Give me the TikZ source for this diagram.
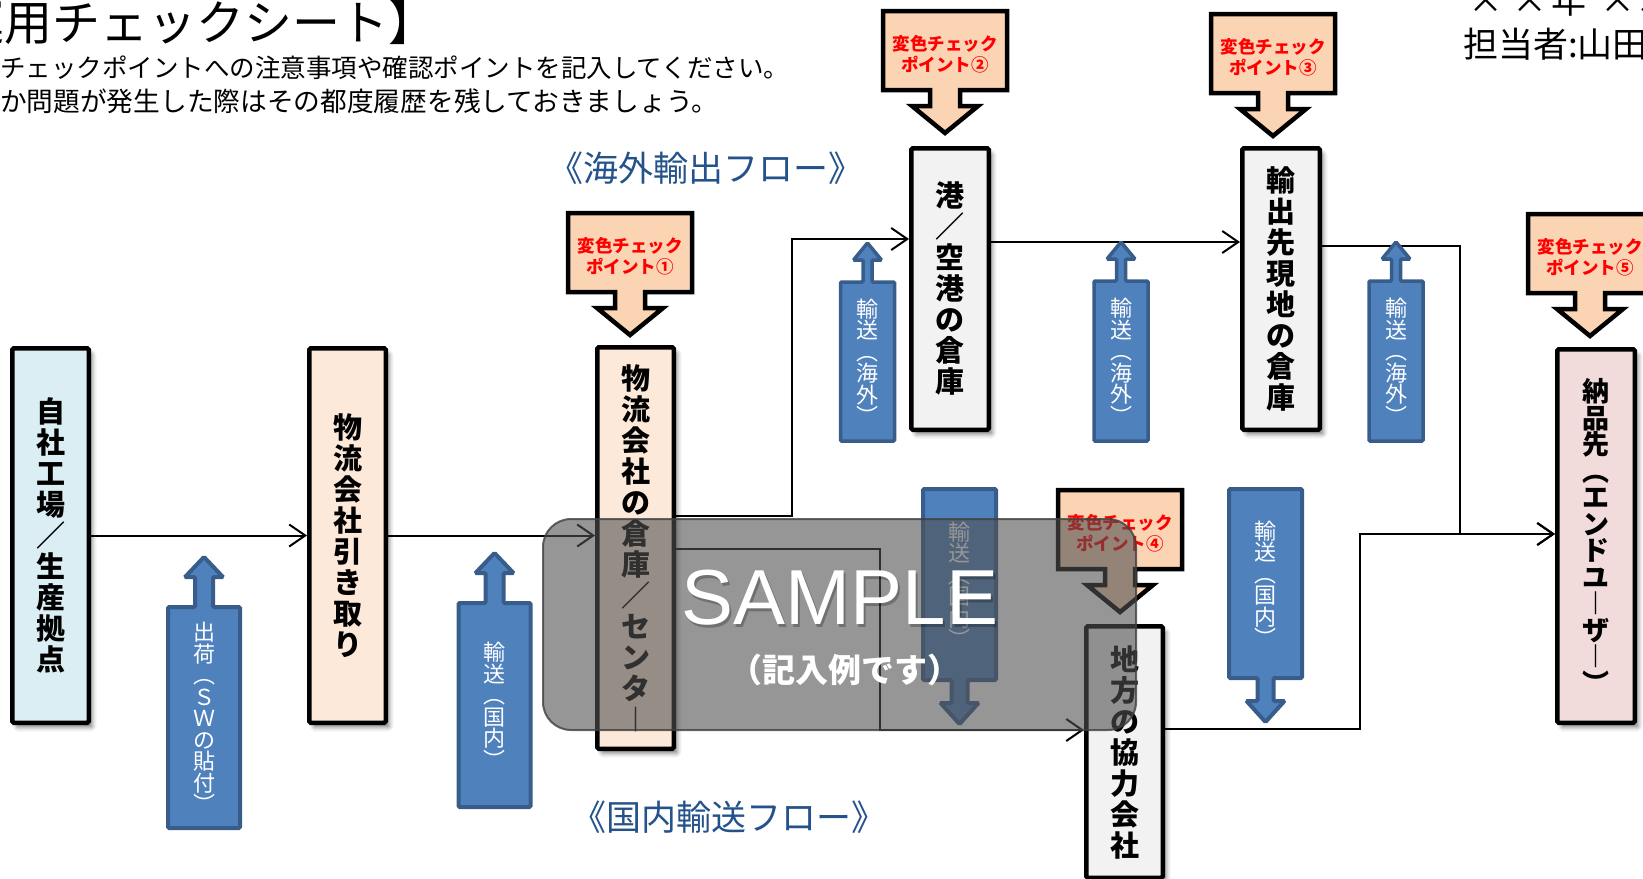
\documentclass[tikz,border=0pt]{standalone}
\usepackage{fontspec}
\setmainfont{Noto Sans CJK JP}
\newfontfamily\latinsans{Liberation Sans}
\usetikzlibrary{arrows.meta,shadows.blur}
\definecolor{boxblue}{HTML}{DAEEF3}
\definecolor{boxpeach}{HTML}{FDE9D9}
\definecolor{boxgray}{HTML}{F2F2F2}
\definecolor{boxpink}{HTML}{F2DCDB}
\definecolor{callfill}{HTML}{FBD4B4}
\definecolor{arrfill}{HTML}{4F81BD}
\definecolor{arrline}{HTML}{385D8A}
\definecolor{flowblue}{HTML}{24528A}
\definecolor{overlaygray}{HTML}{505050}
\definecolor{callred}{HTML}{FF0000}

\newcommand\calloutshape[4]{%
  \draw[callbox] ({#2-62},{#3+2}) -- ({#2+62},{#3+2}) -- ({#2+62},{#3+81}) -- ({#2+15},{#3+81}) -- ({#2+15},{#3+97}) -- ({#2+33},{#3+97}) -- (#2,{#3+124}) -- ({#2-33},{#3+97}) -- ({#2-15},{#3+97}) -- ({#2-15},{#3+81}) -- ({#2-62},{#3+81}) -- cycle;
  \node[calltext] (#1) at (#2,{#3+45}) {変色チェック\\ポイント#4};}

\newcommand\bluearrowupW[5]{%
  \draw[bluearr] ({#2-36},#4) -- ({#2-36},#3) -- ({#2-9},#3) -- ({#2-9},{#3-30}) -- ({#2-19},{#3-30}) -- (#2,{#3-50}) -- ({#2+19},{#3-30}) -- ({#2+9},{#3-30}) -- ({#2+9},#3) -- ({#2+36},#3) -- ({#2+36},#4) -- cycle;
  \node[bluetext] (#1) at (#2,{(#3+#4)/2}) {#5};}

\newcommand\bluearrowupN[5]{%
  \draw[bluearr, line width=3.5pt] ({#2-27},#4) -- ({#2-27},#3) -- ({#2-4.5},#3) -- ({#2-4.5},{#3-22}) -- ({#2-14},{#3-22}) -- (#2,{#3-39}) -- ({#2+14},{#3-22}) -- ({#2+4.5},{#3-22}) -- ({#2+4.5},#3) -- ({#2+27},#3) -- ({#2+27},#4) -- cycle;
  \node[bluetext] (#1) at (#2,{(#3+#4)/2}) {#5};}

\newcommand\bluearrowdn[5]{%
  \draw[bluearr] ({#2-36.5},#3) -- ({#2+36.5},#3) -- ({#2+36.5},#4) -- ({#2+8},#4) -- ({#2+8},{#4+23}) -- ({#2+19},{#4+23}) -- (#2,{#4+44}) -- ({#2-19},{#4+23}) -- ({#2-8},{#4+23}) -- ({#2-8},#4) -- ({#2-36.5},#4) -- cycle;
  \node[bluetext] (#1) at (#2,{(#3+#4)/2}) {#5};}

\begin{document}
\begin{tikzpicture}[x=1pt,y=-1pt,
  mainbox/.style={draw=black, line width=4.5pt, rounded corners=1.5pt, inner sep=0pt,
    align=center, font={\fontsize{29}{31}\selectfont\bfseries\lineskiplimit=-200pt},
    blur shadow={shadow xshift=4pt, shadow yshift=-5pt, shadow blur radius=4pt, shadow opacity=45}},
  callbox/.style={draw=black, line width=4.5pt, fill=callfill, line join=miter},
  calltext/.style={text=callred, align=center, inner sep=0pt,
    font={\fontsize{17.5}{21}\selectfont\bfseries\lineskiplimit=-200pt}},
  bluearr/.style={draw=arrline, fill=arrfill, line width=4pt, rounded corners=1.2pt},
  bluetext/.style={text=white, align=center, inner sep=0pt,
    font={\fontsize{22}{21.5}\selectfont\lineskiplimit=-200pt}},
  conn/.style={line width=2pt, -{Straight Barb[length=16pt,width=22pt]}},
  flowlabel/.style={text=flowblue, inner sep=0pt, font={\fontsize{35}{35}\selectfont}},
  headtext/.style={inner sep=0pt, text=black}
]
\useasboundingbox (0,0) rectangle (1643,878);
\clip (0,0) rectangle (1643,878);

% header texts
\node[headtext, anchor=base east, font={\fontsize{48}{48}\selectfont}] (title) at (437,40) {【運用チェックシート】};
\node[headtext, anchor=base west, font={\fontsize{25.5}{25.5}\selectfont}] (sub1) at (0,77) {チェックポイントへの注意事項や確認ポイントを記入してください。};
\node[headtext, anchor=base west, font={\fontsize{26.7}{26.7}\selectfont}] (sub2) at (0,111) {か問題が発生した際はその都度履歴を残しておきましょう。};
\node[headtext, anchor=base west, font={\fontsize{35}{35}\selectfont}] (date) at (1468,13) {×\hspace{9pt}×\hspace{4pt}年\hspace{14pt}××月××日};
\node[headtext, anchor=base west, font={\fontsize{35}{35}\selectfont}] (person) at (1463,57) {担当者:山田};

% flow labels
\node[flowlabel] (lblover) at (706,168) {《海外輸出フロー》};
\node[flowlabel] (lbldom) at (729,817) {《国内輸送フロー》};

% connector bend points
\coordinate (j1) at (792,239);
\coordinate (j2) at (880,730);
\coordinate (j3) at (1460,534);
\coordinate (j4) at (1360,534);

% main boxes
\node[mainbox, fill=boxblue, minimum width=76.5pt, minimum height=374.5pt] (A) at (50.5,535.5) {自\\社\\工\\場\\／\\生\\産\\拠\\点};
\node[mainbox, fill=boxpeach, minimum width=76.5pt, minimum height=374.5pt] (B) at (347.5,535.5) {物\\流\\会\\社\\引\\き\\取\\り};
\node[mainbox, fill=boxpeach, minimum width=76.5pt, minimum height=401.5pt] (C) at (635.5,548) {物\\流\\会\\社\\の\\倉\\庫\\／\\セ\\ン\\タ\\︱};
\node[mainbox, fill=boxgray, minimum width=77.5pt, minimum height=281.5pt] (D) at (950,289) {港\\／\\空\\港\\の\\倉\\庫};
\node[mainbox, fill=boxgray, minimum width=77.5pt, minimum height=281.5pt] (E) at (1281,289) {輸\\出\\先\\現\\地\\の\\倉\\庫};
\node[mainbox, fill=boxgray, minimum width=76.5pt, minimum height=251.5pt] (F) at (1124.5,752) {地\\方\\の\\協\\力\\会\\社};
\node[mainbox, fill=boxpink, minimum width=77.5pt, minimum height=373.5pt,
  font={\fontsize{27}{26.5}\selectfont\bfseries\lineskiplimit=-200pt}] (G) at (1596,536) {納\\品\\先\\︵\\エ\\ン\\ド\\ユ\\︱\\ザ\\︱\\︶};

\draw[conn] (A) -- (B);
\draw[conn] (B.east) -- (B.east -| C.west);
\draw[conn] (C.east |- 0,516) -| (j1) -- (D.west |- j1);
\draw[conn] (D.east |- 0,242) -- (E.west |- 0,242);
\draw[conn] (E.east |- 0,246) -| (j3) -- (G.west |- j3);
\draw[conn] (C.east |- 0,549) -| (j2) -- (F.west |- j2);
\draw[conn] (F.east |- 0,729) -| (j4) -- (G.west |- j4);

% blue arrows
\bluearrowupW{ship}{204}{607}{828}{出\\荷\\︵\\Ｓ\\Ｗ\\の\\貼\\付\\︶}
\bluearrowupW{domA}{494.5}{603}{807}{輸\\送\\︵\\国\\内\\︶}
\bluearrowupN{ovA}{867.5}{282}{441}{輸\\送\\︵\\海\\外\\︶}
\bluearrowupN{ovB}{1121}{281}{441}{輸\\送\\︵\\海\\外\\︶}
\bluearrowupN{ovC}{1396}{281}{441}{輸\\送\\︵\\海\\外\\︶}
\bluearrowdn{domB}{959.5}{489}{680}{輸\\送\\︵\\国\\内\\︶}
\bluearrowdn{domC}{1265.5}{489}{678}{輸\\送\\︵\\国\\内\\︶}

% callouts
\calloutshape{cp1}{630}{211}{①}
\calloutshape{cp2}{945}{9}{②}
\calloutshape{cp3}{1273}{12}{③}
\calloutshape{cp4}{1120}{488}{④}
\calloutshape{cp5}{1590}{212}{⑤}

% sample overlay
\draw[draw=black!75, line width=2pt, fill=overlaygray, fill opacity=0.6, draw opacity=0.8, rounded corners=28pt] (543,519) rectangle (1136,730);
\node[text=black, opacity=0.25, inner sep=0pt, font={\latinsans\fontsize{78}{78}\selectfont}] (sampleshadow) at (842,601) {SAMPLE};
\node[text=white, inner sep=0pt, font={\latinsans\fontsize{78}{78}\selectfont}] (sample) at (840,598) {SAMPLE};
\node[text=white, inner sep=0pt, font={\fontsize{33}{33}\selectfont\bfseries}] (note) at (845,670) {（記入例です）};
\end{tikzpicture}
\end{document}
